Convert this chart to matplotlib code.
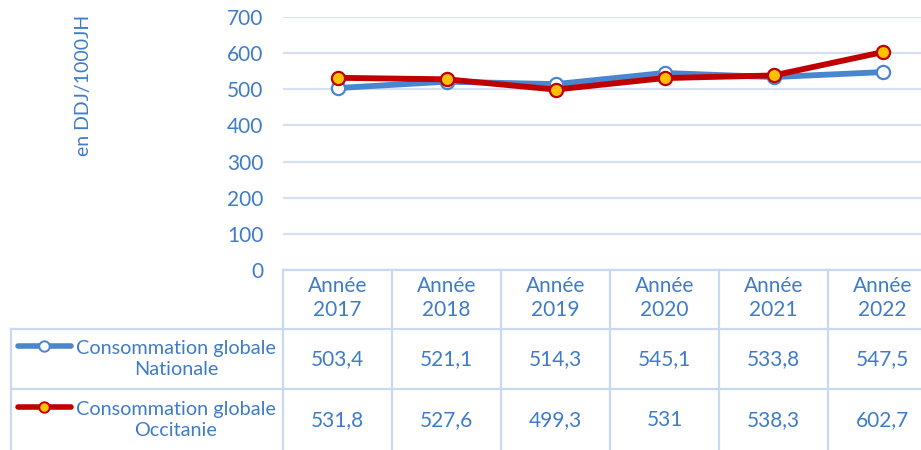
import matplotlib
matplotlib.use("Agg")
import matplotlib.pyplot as plt
from matplotlib.lines import Line2D

plt.rcParams['font.family'] = ['Lato', 'DejaVu Sans']

annees = ["Année\n2017", "Année\n2018", "Année\n2019", "Année\n2020", "Année\n2021", "Année\n2022"]
nationale = [503.4, 521.1, 514.3, 545.1, 533.8, 547.5]
occitanie = [531.8, 527.6, 499.3, 531, 538.3, 602.7]
series_noms = ["Consommation globale\nNationale", "Consommation globale\nOccitanie"]
yticks = [0, 100, 200, 300, 400, 500, 600, 700]

bleu = "#4A86D0"
rouge = "#C00000"
jaune = "#FFC000"
txt = "#3F7CC8"
grille = "#D5E1F2"

W, H = 921, 450
fig = plt.figure(figsize=(W / 100, H / 100), dpi=100)

# zone de tracé (en pixels), la dernière colonne dépasse à droite
x0, colw = 283, 109
y_top, y_zero = 17, 270
ax = fig.add_axes([x0 / W, 1 - y_zero / H, colw * 6 / W, (y_zero - y_top) / H])
ax.set_xlim(-0.5, 5.5)
ax.set_ylim(0, 700)
ax.set_yticks(yticks)
ax.set_xticks([])
for s in ax.spines.values():
    s.set_visible(False)
ax.grid(axis='y', color=grille, linewidth=1.6)
ax.set_axisbelow(True)
ax.tick_params(axis='y', length=0, labelsize=15, labelcolor=txt, pad=14)

x = list(range(len(annees)))
ax.plot(x, nationale, color=bleu, lw=4.2, marker='o', ms=9.5,
        mfc='white', mec=bleu, mew=1.6, zorder=3)
ax.plot(x, occitanie, color=rouge, lw=4.2, marker='o', ms=9.5,
        mfc=jaune, mec=rouge, mew=1.6, zorder=4)

fig.text(83 / W, 1 - 85 / H, "en DDJ/1000JH", rotation=90, ha='center', va='center',
         color=txt, fontsize=14)

# tableau de données
def fx(px):
    return px / W

def fy(py):
    return 1 - py / H

tc = "#C9D9EF"
def hline(xa, xb, y):
    fig.add_artist(Line2D([fx(xa), fx(xb)], [fy(y), fy(y)], color=tc, lw=1.6,
                          transform=fig.transFigure))

def vline(xp, ya, yb):
    fig.add_artist(Line2D([fx(xp), fx(xp)], [fy(ya), fy(yb)], color=tc, lw=1.6,
                          transform=fig.transFigure))

hline(x0, W, y_zero)
hline(11, W, 329)
hline(11, W, 389)
vline(11, 329, H)
for k in range(6):
    vline(x0 + k * colw, y_zero, H)

for k, a in enumerate(annees):
    cx = x0 + colw * (k + 0.5)
    fig.text(fx(cx), fy(298), a, ha='center', va='center', color=txt,
             fontsize=15, linespacing=1.2)
    for val, yy in ((nationale[k], 359), (occitanie[k], 420)):
        s = ("%g" % val).replace('.', ',')
        fig.text(fx(cx), fy(yy), s, ha='center', va='center', color=txt, fontsize=15)

for nom, yy, c, fc in ((series_noms[0], 359, bleu, 'white'),
                       (series_noms[1], 420, rouge, jaune)):
    fig.text(fx(176), fy(yy), nom, ha='center', va='center', color=txt,
             fontsize=14.3, linespacing=1.32)
    fig.add_artist(Line2D([fx(18), fx(71)], [fy(yy - 13), fy(yy - 13)], color=c, lw=4,
                          solid_capstyle='round', transform=fig.transFigure))
    fig.add_artist(Line2D([fx(44)], [fy(yy - 13)], marker='o', ms=7.5, mfc=fc, mec=c,
                          mew=1.4, transform=fig.transFigure))

fig.savefig("out.png", dpi=100)
